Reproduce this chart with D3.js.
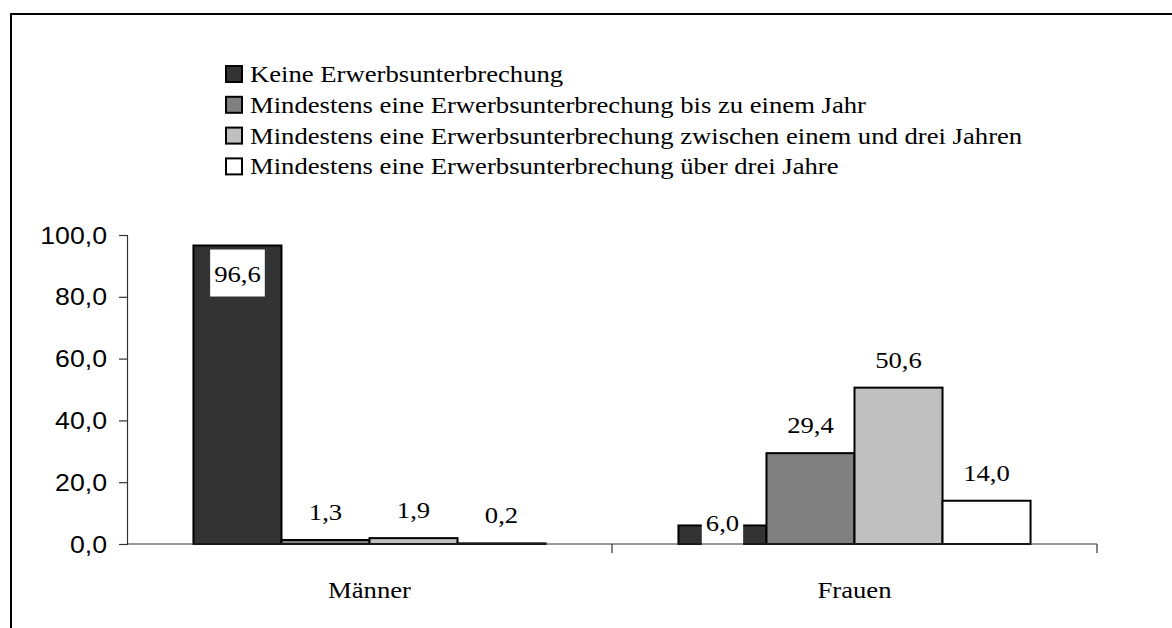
<!DOCTYPE html>
<html>
<head>
<meta charset="utf-8">
<script src="https://cdn.jsdelivr.net/npm/d3@7/dist/d3.min.js"></script>
<style>
  body { margin: 0; background: #fff; }
  svg { display: block; font-family: "Liberation Serif", "Times New Roman", serif; }
</style>
</head>
<body>
<div id="chart"></div>
<script>
// data
var categories = ["Männer", "Frauen"];
var seriesNames = [
    "Keine Erwerbsunterbrechung",
    "Mindestens eine Erwerbsunterbrechung bis zu einem Jahr",
    "Mindestens eine Erwerbsunterbrechung zwischen einem und drei Jahren",
    "Mindestens eine Erwerbsunterbrechung über drei Jahre"
];
var maenner = [96.6, 1.3, 1.9, 0.2];
var frauen = [6.0, 29.4, 50.6, 14.0];
var yTicks = [0, 20, 40, 60, 80, 100];
var colours = ["#333333", "#808080", "#c0c0c0", "#ffffff"];

(function() {
    var width = 1172, height = 628;
    var plot = {left: 127, right: 1097, top: 235, bottom: 544};
    var fontSize = "23px";
    var sx = 1.16;   // the original text is stretched sideways

    var de = d3.formatLocale({decimal: ",", thousands: ".", grouping: [3], currency: ["", " €"]});
    var fmt = de.format(".1f");

    var svg = d3.select("#chart").append("svg")
        .attr("width", width)
        .attr("height", height);

    // outer frame (only left and top edges are visible in the picture)
    svg.append("path")
        .attr("d", "M11,640 V14 H1180")
        .attr("fill", "none")
        .attr("stroke", "#000")
        .attr("stroke-width", 2);

    var rows = categories.map(function(c, i) {
        return {cat: c, values: i === 0 ? maenner : frauen};
    });

    var x0 = d3.scaleBand()
        .domain(categories)
        .range([plot.left, plot.right]);

    var x1 = d3.scaleBand()
        .domain(d3.range(seriesNames.length))
        .range([0, x0.bandwidth()])
        .paddingInner(0)
        .paddingOuter(0.755);

    var y = d3.scaleLinear()
        .domain([0, 100])
        .range([plot.bottom, plot.top]);

    // adds a sideways-stretched text at x,y inside parent
    var addText = function(parent, x, yy, str, anchor) {
        return parent.append("text")
            .attr("transform", "translate(" + x + "," + yy + ") scale(" + sx + ",1)")
            .attr("text-anchor", anchor || "start")
            .attr("dy", "0.35em")
            .style("font-size", fontSize)
            .text(str);
    };

    // y axis
    var yAxis = svg.append("g")
        .attr("transform", "translate(" + plot.left + ",0)")
        .call(d3.axisLeft(y).tickValues(yTicks).tickFormat("").tickSize(8));
    yAxis.select(".domain").attr("stroke", "#333").attr("stroke-width", 1.2);
    yAxis.selectAll(".tick line").attr("stroke", "#333").attr("stroke-width", 1.2);
    yAxis.selectAll(".tick text").remove();
    yAxis.selectAll(".tick").each(function(d) {
        addText(d3.select(this), -20, 0, fmt(d), "end").attr("fill", "#000");
    });

    // bars
    var groups = svg.selectAll(".cat")
        .data(rows)
        .enter().append("g")
        .attr("class", "cat")
        .attr("transform", function(d) { return "translate(" + x0(d.cat) + ",0)"; });

    groups.selectAll("rect.bar")
        .data(function(d) { return d.values.map(function(v, i) { return {cat: d.cat, i: i, v: v}; }); })
        .enter().append("rect")
        .attr("class", "bar")
        .attr("x", function(d) { return x1(d.i); })
        .attr("width", x1.bandwidth())
        .attr("y", function(d) { return y(d.v); })
        .attr("height", function(d) { return y(0) - y(d.v); })
        .attr("fill", function(d) { return colours[d.i]; })
        .attr("stroke", "#000")
        .attr("stroke-width", 2);

    // x axis drawn over bars
    var xAxis = svg.append("g")
        .attr("transform", "translate(0," + plot.bottom + ")");
    xAxis.append("line")
        .attr("x1", plot.left).attr("x2", plot.right)
        .attr("stroke", "#333").attr("stroke-width", 1.2);
    xAxis.selectAll(".sep")
        .data(categories)
        .enter().append("line")
        .attr("class", "sep")
        .attr("x1", function(d) { return x0(d) + x0.bandwidth(); })
        .attr("x2", function(d) { return x0(d) + x0.bandwidth(); })
        .attr("y1", 0).attr("y2", 9)
        .attr("stroke", "#333").attr("stroke-width", 1.2);
    categories.forEach(function(c) {
        addText(xAxis, x0(c) + x0.bandwidth() / 2, 46, c, "middle");
    });

    // value labels with white boxes
    groups.each(function(row) {
        var g = d3.select(this);
        row.values.forEach(function(v, i) {
            var top = y(v);
            var cy = top - 28;
            if (cy < plot.top + 20) cy = top + 28;   // no room above: put it inside
            if (row.cat === "Frauen" && i === 0) cy = top - 3;   // Excel squeezed this one down
            var lg = g.append("g").attr("transform", "translate(" + (x1(i) + x1.bandwidth() / 2) + "," + cy + ")");
            var t = addText(lg, 0, 0, fmt(v), "middle");
            var w = t.node().getBBox().width * sx;
            lg.insert("rect", "text")
                .attr("x", -w / 2 - 4)
                .attr("y", -24)
                .attr("width", w + 8)
                .attr("height", 47)
                .attr("fill", "#fff");
        });
    });

    // legend
    var legend = svg.append("g")
        .attr("transform", "translate(225,0)");
    var items = legend.selectAll(".item")
        .data(seriesNames)
        .enter().append("g")
        .attr("class", "item")
        .attr("transform", function(d, i) { return "translate(0," + (74 + i * 30.8) + ")"; });
    items.append("rect")
        .attr("x", 1).attr("y", -8)
        .attr("width", 16).attr("height", 16)
        .attr("fill", function(d, i) { return colours[i]; })
        .attr("stroke", "#000")
        .attr("stroke-width", 2);
    items.each(function(d) {
        addText(d3.select(this), 25, 0, d, "start");
    });
})();
</script>
</body>
</html>
